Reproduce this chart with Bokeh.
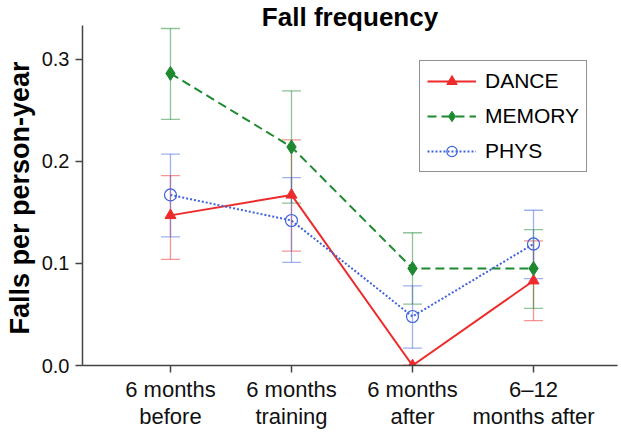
from bokeh.plotting import figure
from bokeh.models import (ColumnDataSource, Whisker, TeeHead, Legend, LegendItem,
                          FixedTicker, Range1d, Label)
from bokeh.embed import file_html
from bokeh.resources import INLINE

periods = ["6 months\nbefore", "6 months\ntraining", "6 months\nafter", "6\u201312\nmonths after"]
xpos = [1, 2, 3, 4]

dance = [0.147, 0.167, 0.0, 0.083]
dance_lo = [0.104, 0.112, 0.0, 0.044]
dance_hi = [0.186, 0.221, 0.0, 0.122]

memory = [0.286, 0.214, 0.095, 0.095]
memory_lo = [0.241, 0.159, 0.060, 0.056]
memory_hi = [0.330, 0.269, 0.130, 0.133]

phys = [0.167, 0.142, 0.048, 0.119]
phys_lo = [0.126, 0.101, 0.017, 0.085]
phys_hi = [0.207, 0.184, 0.078, 0.152]

FONT = "Liberation Sans"
X0, X1 = 0.273, 4.694
YAX = 0.333      # top of the drawn y axis
Y1 = 0.3574      # range top (room for the title)

p = figure(width=621, height=432, output_backend="svg", toolbar_location=None,
           x_range=Range1d(X0, X1), y_range=Range1d(0, Y1),
           min_border_left=82, min_border_right=4, min_border_top=0, min_border_bottom=65)
p.outline_line_color = None
p.xgrid.visible = False
p.ygrid.visible = False
p.background_fill_color = "white"

title = Label(x=(X0 + X1) / 2, y=YAX, x_units="data", y_units="data", y_offset=8,
              text="Fall frequency", text_align="center", text_baseline="alphabetic",
              text_font=FONT, text_font_size="26px", text_font_style="bold",
              text_color="black")
p.add_layout(title)

p.xaxis.ticker = FixedTicker(ticks=xpos)
p.xaxis.major_label_overrides = {x: lab for x, lab in zip(xpos, periods)}
p.yaxis.ticker = FixedTicker(ticks=[0.0, 0.1, 0.2, 0.3])
p.yaxis.major_label_overrides = {0.0: "0.0", 0.1: "0.1", 0.2: "0.2", 0.3: "0.3"}
p.yaxis.bounds = (0, YAX)
for ax in (p.xaxis[0], p.yaxis[0]):
    ax.axis_line_color = "#444444"
    ax.axis_line_width = 1.5
    ax.major_tick_line_color = "#444444"
    ax.major_tick_line_width = 1.5
    ax.major_tick_out = 7
    ax.major_tick_in = 0
    ax.minor_tick_line_color = None
    ax.major_label_text_font = FONT
    ax.major_label_text_color = "#111111"
p.xaxis.major_label_text_font_size = "22px"
p.xaxis.major_label_text_line_height = 1.1
p.yaxis.major_label_text_font_size = "20px"
p.xaxis.major_label_standoff = 4
p.yaxis.major_label_standoff = 6
p.yaxis.axis_label = "Falls per person-year" + "\u00a0" * 4
p.yaxis.axis_label_text_font = FONT
p.yaxis.axis_label_text_font_size = "27px"
p.yaxis.axis_label_text_font_style = "bold"
p.yaxis.axis_label_text_color = "black"
p.yaxis.axis_label_standoff = 4

series = [
    ("DANCE", dance, dance_lo, dance_hi, "#ee2b2b", "solid", "triangle", 11, True),
    ("MEMORY", memory, memory_lo, memory_hi, "#1d8a30", "9 5", "diamond", 14, True),
    ("PHYS", phys, phys_lo, phys_hi, "#3f63dc", "2 2", "circle", 12, False),
]

items = []
for name, vals, lo, hi, col, dash, marker, size, filled in series:
    src = ColumnDataSource(dict(x=xpos, y=vals, lo=lo, hi=hi))
    w = Whisker(source=src, base="x", upper="hi", lower="lo",
                line_color=col, line_alpha=0.5, line_width=1.3,
                upper_head=TeeHead(size=19, line_color=col, line_alpha=0.5, line_width=1.3),
                lower_head=TeeHead(size=19, line_color=col, line_alpha=0.5, line_width=1.3))
    p.add_layout(w)
    ln = p.line("x", "y", source=src, line_color=col, line_width=2, line_dash=dash)
    if filled:
        sc = p.scatter("x", "y", source=src, marker=marker, size=size,
                       fill_color=col, line_color=col)
    else:
        sc = p.scatter("x", "y", source=src, marker=marker, size=size,
                       fill_color=None, line_color=col, line_width=1.2)
    items.append(LegendItem(label=name, renderers=[ln, sc]))

legend = Legend(items=items, location=(337, 193))
legend.border_line_color = "#222222"
legend.border_line_width = 1.5
legend.label_text_font = FONT
legend.label_text_font_size = "21px"
legend.label_text_color = "black"
legend.glyph_width = 49
legend.glyph_height = 26
legend.label_height = 26
legend.spacing = 9
legend.padding = 7
legend.margin = 0
legend.label_standoff = 9
p.add_layout(legend, "center")

open("out.html", "w").write(file_html(p, INLINE))
